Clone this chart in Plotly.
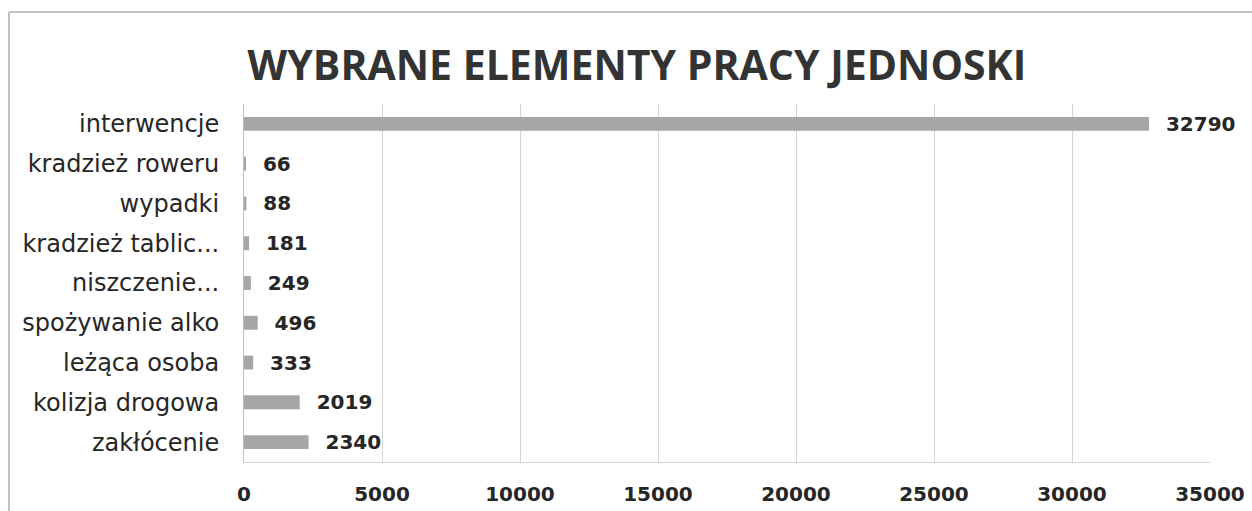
import plotly.graph_objects as go

# ── Data (top to bottom as shown) ─────────────────────────────────────────────
CATEGORIES = [
    "interwencje",
    "kradzież roweru",
    "wypadki",
    "kradzież tablic...",
    "niszczenie...",
    "spożywanie alko",
    "leżąca osoba",
    "kolizja drogowa",
    "zakłócenie",
]
VALUES = [32790, 66, 88, 181, 249, 496, 333, 2019, 2340]
X_TICKS = [0, 5000, 10000, 15000, 20000, 25000, 30000, 35000]

TITLE = "WYBRANE ELEMENTY PRACY JEDNOSKI"
BAR_COLOR = "#a6a6a6"
TEXT_COLOR = "#262626"
GRID_COLOR = "#d4d4d4"

W, H = 1252, 511
M_L, M_R, M_T, M_B = 244, 42, 104, 49

fig = go.Figure()
fig.add_trace(go.Bar(
    y=CATEGORIES,
    x=VALUES,
    orientation="h",
    marker=dict(color=BAR_COLOR, line=dict(width=0)),
    text=[f"\u00a0\u00a0{v}" for v in VALUES],
    textposition="outside",
    constraintext="none",
    cliponaxis=False,
    textfont=dict(family="DejaVu Sans", size=20, color=TEXT_COLOR, weight="bold"),
    showlegend=False,
))

fig.update_layout(
    width=W,
    height=H,
    margin=dict(l=M_L, r=M_R, t=M_T, b=M_B, autoexpand=False),
    bargap=0.65,
    plot_bgcolor="white",
    paper_bgcolor="white",
    title=dict(
        text=TITLE,
        x=637 / W,
        xanchor="center",
        y=1 - 66 / H,
        yanchor="middle",
        font=dict(family="Open Sans", size=41, color="#333333", weight="bold"),
    ),
)

fig.update_xaxes(
    range=[0, 35000],
    tickvals=X_TICKS,
    ticktext=[str(t) for t in X_TICKS],
    showgrid=True,
    gridcolor=GRID_COLOR,
    gridwidth=1,
    zeroline=False,
    showline=True,
    linecolor=GRID_COLOR,
    ticks="",
    ticklabelstandoff=14,
    automargin=False,
    tickfont=dict(family="DejaVu Sans", size=20, color=TEXT_COLOR, weight="bold"),
    fixedrange=True,
)
fig.update_yaxes(
    categoryorder="array",
    categoryarray=CATEGORIES,
    autorange="reversed",
    showgrid=False,
    showline=True,
    linecolor="#bfbfbf",
    ticks="",
    ticklabelstandoff=19,
    automargin=False,
    tickfont=dict(family="DejaVu Sans", size=24, color=TEXT_COLOR),
    fixedrange=True,
)

# chart frame (top and left edges visible in the scan)
pw = W - M_L - M_R
ph = H - M_T - M_B
x_left = (9 - M_L) / pw
y_top = (H - M_B - 12) / ph
fig.add_shape(type="line", xref="paper", yref="paper",
              x0=x_left, x1=(W + 5 - M_L) / pw, y0=y_top, y1=y_top,
              line=dict(color="#c4c4c4", width=2))
fig.add_shape(type="line", xref="paper", yref="paper",
              x0=x_left, x1=x_left, y0=y_top, y1=-(M_B + 5) / ph,
              line=dict(color="#c4c4c4", width=2))

fig.write_html(
    "out.html",
    config={"displayModeBar": False},
    post_script="document.body.style.margin='0';",
)
